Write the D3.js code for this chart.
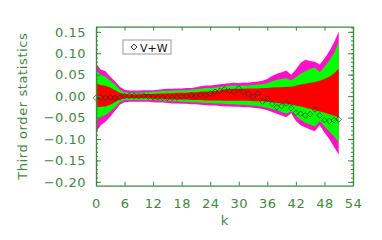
<!DOCTYPE html>
<html>
<head>
<meta charset="utf-8">
<script src="https://cdn.jsdelivr.net/npm/d3@7"></script>
<style>
  body { margin: 0; background: #fff; }
  svg { display: block; }
  text { font-family: "DejaVu Sans", sans-serif; }
</style>
</head>
<body>
<svg id="vis" width="382" height="240"></svg>
<script>
var width = 382,
    height = 240,
    ink = "#3b8a3b";

// k = 0..51
var kVals = d3.range(0, 52);

// outer (magenta) envelope
var magTop = [0.076, 0.062, 0.058, 0.045, 0.035, 0.022, 0.015, 0.013, 0.013, 0.013,
              0.014, 0.014, 0.014, 0.015, 0.016, 0.017, 0.017, 0.018, 0.018, 0.019,
              0.019, 0.021, 0.023, 0.025, 0.025, 0.026, 0.028, 0.029, 0.030, 0.031,
              0.030, 0.032, 0.031, 0.033, 0.034, 0.036, 0.040, 0.047, 0.052, 0.056,
              0.060, 0.050, 0.062, 0.078, 0.085, 0.082, 0.080, 0.074, 0.088, 0.105,
              0.125, 0.150];
var magBot = [-0.084, -0.068, -0.060, -0.048, -0.034, -0.020, -0.014, -0.013, -0.013, -0.013,
              -0.013, -0.013, -0.014, -0.015, -0.015, -0.016, -0.017, -0.017, -0.018, -0.018,
              -0.019, -0.019, -0.020, -0.021, -0.022, -0.022, -0.023, -0.024, -0.024, -0.025,
              -0.025, -0.026, -0.026, -0.027, -0.028, -0.030, -0.033, -0.037, -0.041, -0.045,
              -0.049, -0.040, -0.058, -0.068, -0.073, -0.078, -0.082, -0.068, -0.085, -0.100,
              -0.118, -0.137];

// middle (green) envelope
var grnTop = [0.060, 0.050, 0.046, 0.036, 0.027, 0.015, 0.009, 0.008, 0.008, 0.008,
              0.009, 0.009, 0.010, 0.011, 0.012, 0.012, 0.013, 0.013, 0.014, 0.014,
              0.015, 0.016, 0.017, 0.019, 0.019, 0.020, 0.021, 0.023, 0.024, 0.025,
              0.024, 0.025, 0.025, 0.026, 0.027, 0.028, 0.030, 0.035, 0.038, 0.040,
              0.042, 0.037, 0.044, 0.052, 0.058, 0.064, 0.066, 0.056, 0.068, 0.083,
              0.100, 0.125];
var grnBot = [-0.058, -0.048, -0.044, -0.036, -0.026, -0.014, -0.009, -0.009, -0.009, -0.009,
              -0.009, -0.009, -0.009, -0.010, -0.011, -0.011, -0.012, -0.012, -0.013, -0.013,
              -0.014, -0.014, -0.015, -0.016, -0.016, -0.017, -0.017, -0.018, -0.019, -0.019,
              -0.020, -0.020, -0.021, -0.022, -0.023, -0.025, -0.027, -0.030, -0.033, -0.037,
              -0.041, -0.036, -0.046, -0.055, -0.062, -0.066, -0.071, -0.058, -0.070, -0.082,
              -0.093, -0.108];

// inner (red) envelope
var redTop = [0.030, 0.026, 0.024, 0.020, 0.014, 0.008, 0.005, 0.004, 0.004, 0.004,
              0.005, 0.005, 0.005, 0.006, 0.006, 0.007, 0.007, 0.008, 0.008, 0.008,
              0.009, 0.009, 0.010, 0.011, 0.011, 0.012, 0.013, 0.016, 0.016, 0.017,
              0.017, 0.017, 0.018, 0.018, 0.018, 0.019, 0.019, 0.020, 0.021, 0.021,
              0.022, 0.022, 0.024, 0.027, 0.029, 0.031, 0.033, 0.036, 0.040, 0.045,
              0.053, 0.064];
var redBot = [-0.026, -0.025, -0.024, -0.020, -0.014, -0.008, -0.005, -0.005, -0.005, -0.005,
              -0.005, -0.005, -0.006, -0.006, -0.006, -0.007, -0.007, -0.007, -0.008, -0.008,
              -0.009, -0.009, -0.009, -0.010, -0.010, -0.010, -0.010, -0.011, -0.011, -0.011,
              -0.011, -0.011, -0.011, -0.012, -0.012, -0.012, -0.013, -0.014, -0.016, -0.017,
              -0.018, -0.020, -0.022, -0.024, -0.027, -0.030, -0.033, -0.036, -0.039, -0.042,
              -0.046, -0.049];

// V+W diamonds
var vw = [-0.004, -0.003, -0.004, -0.003, -0.004, -0.003, 0.000, 0.001, 0.001, 0.000,
          0.001, -0.001, -0.002, -0.003, -0.004, -0.004, -0.004, -0.003, -0.001, 0.000,
          0.002, 0.000, 0.003, 0.002, 0.006, 0.010, 0.012, 0.016, 0.012, 0.010,
          0.018, 0.010, 0.005, -0.002, 0.006, -0.013, -0.006, -0.018, -0.026, -0.023,
          -0.017, -0.028, -0.039, -0.041, -0.045, -0.042, -0.031, -0.045, -0.056, -0.058,
          -0.056, -0.054];

var xTicks = d3.range(0, 55, 6);
var yTicks = [-0.20, -0.15, -0.10, -0.05, 0.00, 0.05, 0.10, 0.15];
var yMinor = d3.range(-20, 17).map(function(i) { return i / 100; });

var svg = d3.select("#vis");

var x = d3.scaleLinear().domain([0, 54]).range([96, 353]);
var y = d3.scaleLinear().domain([-0.209, 0.162]).range([185.7, 26.7]);

var plot = svg.append("g");

function band(top, bot, fill) {
  var area = d3.area()
      .x(function(d, i) { return x(kVals[i]); })
      .y0(function(d, i) { return y(bot[i]); })
      .y1(function(d, i) { return y(top[i]); });
  plot.append("path")
      .datum(top)
      .attr("d", area)
      .attr("fill", fill);
}

band(magTop, magBot, "#ff10c8");
band(grnTop, grnBot, "#00ff00");
band(redTop, redBot, "#ff0000");

var diamond = d3.symbol().type(d3.symbolDiamond2).size(20);

plot.append("g")
    .selectAll("path")
    .data(vw)
    .enter()
    .append("path")
    .attr("d", diamond)
    .attr("transform", function(d, i) { return "translate(" + x(kVals[i]) + "," + y(d) + ")"; })
    .attr("fill", "none")
    .attr("stroke", "#1a3a1a")
    .attr("stroke-width", 0.7);

// axes (ticks point inward, like the original)
var fmt = d3.format(".2f");

function styleAxis(g) {
  g.selectAll("path.domain").attr("stroke", ink).attr("stroke-width", 1.2);
  g.selectAll(".tick line").attr("stroke", ink);
  g.selectAll(".tick text")
      .attr("fill", ink)
      .style("font-size", "13px")
      .style("letter-spacing", "0.5px");
}

svg.append("g")
    .attr("transform", "translate(0," + y.range()[0] + ")")
    .call(d3.axisBottom(x).tickValues(xTicks).tickSizeInner(-4).tickSizeOuter(0).tickPadding(13))
    .call(styleAxis);

svg.append("g")
    .attr("transform", "translate(0," + y.range()[1] + ")")
    .call(d3.axisTop(x).tickValues(xTicks).tickSizeInner(-4).tickSizeOuter(0).tickFormat(""))
    .call(styleAxis);

svg.append("g")
    .attr("transform", "translate(" + x.range()[0] + ",0)")
    .call(d3.axisLeft(y).tickValues(yMinor).tickSizeInner(-2).tickSizeOuter(0).tickFormat(""))
    .call(styleAxis);

svg.append("g")
    .attr("transform", "translate(" + x.range()[0] + ",0)")
    .call(d3.axisLeft(y).tickValues(yTicks).tickSizeInner(-5).tickSizeOuter(0).tickPadding(10).tickFormat(fmt))
    .call(styleAxis);

svg.append("g")
    .attr("transform", "translate(" + x.range()[1] + ",0)")
    .call(d3.axisRight(y).tickValues(yMinor).tickSizeInner(-2).tickSizeOuter(0).tickFormat(""))
    .call(styleAxis);

svg.append("g")
    .attr("transform", "translate(" + x.range()[1] + ",0)")
    .call(d3.axisRight(y).tickValues(yTicks).tickSizeInner(-5).tickSizeOuter(0).tickFormat(""))
    .call(styleAxis);

// axis titles
svg.append("text")
    .attr("x", (x.range()[0] + x.range()[1]) / 2)
    .attr("y", 225)
    .attr("text-anchor", "middle")
    .attr("fill", ink)
    .style("font-size", "13px")
    .text("k");

svg.append("text")
    .attr("transform", "translate(27," + (y.range()[0] + y.range()[1]) / 2 + ") rotate(-90)")
    .attr("text-anchor", "middle")
    .attr("fill", ink)
    .style("font-size", "13px")
    .style("letter-spacing", "0.6px")
    .text("Third order statistics");

// legend
var legend = svg.append("g").attr("transform", "translate(123,40)");
legend.append("rect")
    .attr("width", 48)
    .attr("height", 14)
    .attr("fill", "#fff")
    .attr("stroke", "#aaa")
    .attr("stroke-width", 1.2);
legend.append("path")
    .attr("d", d3.symbol().type(d3.symbolDiamond2).size(22))
    .attr("transform", "translate(11,7)")
    .attr("fill", "none")
    .attr("stroke", "#111")
    .attr("stroke-width", 0.9);
legend.append("text")
    .attr("x", 17)
    .attr("y", 11.5)
    .attr("fill", "#111")
    .style("font-size", "11px")
    .text("V+W");
</script>
</body>
</html>
